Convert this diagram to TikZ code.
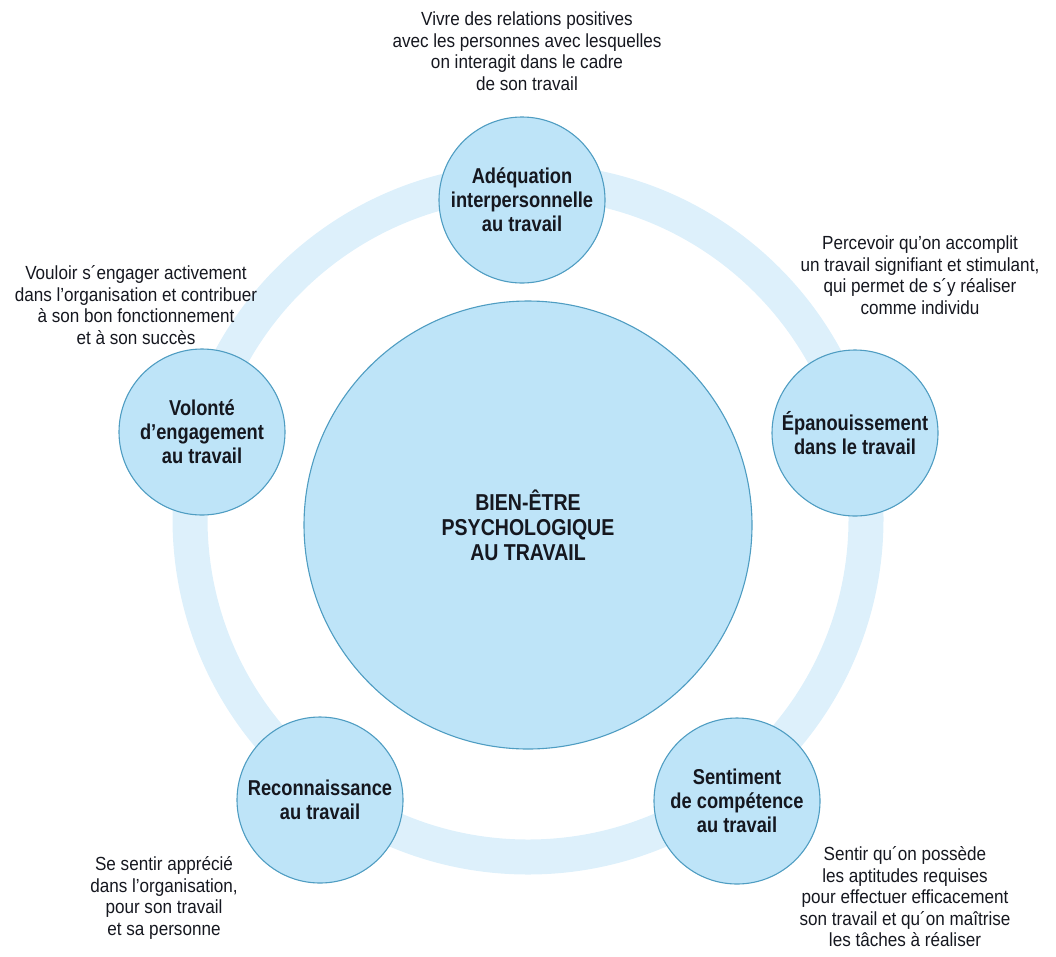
\documentclass[tikz,border=0pt]{standalone}
\usepackage{fontspec}
\setmainfont{Liberation Sans}[FakeStretch=0.9]
\newfontfamily\lblfont{Liberation Sans}[FakeStretch=0.85]
\definecolor{fillc}{HTML}{BEE4F8}
\definecolor{edgec}{HTML}{4F9DC2}
\definecolor{ringc}{HTML}{DDF0FB}
\definecolor{txtc}{HTML}{15171F}
\tikzset{
  smallc/.style={circle, draw=edgec, line width=1.1pt, fill=fillc, minimum size=166pt, inner sep=0pt, align=center, text=txtc, font=\lblfont\fontsize{21.5}{24}\selectfont\bfseries},
  bigc/.style={circle, draw=edgec, line width=1.1pt, fill=fillc, minimum size=448pt, inner sep=0pt, align=center, text=txtc, font=\lblfont\fontsize{23}{25}\selectfont\bfseries},
  desc/.style={align=center, text=txtc, inner sep=0pt, font=\fontsize{19}{21.5}\selectfont}
}
\begin{document}
\begin{tikzpicture}[x=1pt,y=-1pt]
\useasboundingbox (0,0) rectangle (1056,956);
\draw[ringc, line width=35pt] (528,519) circle (338pt);
\node[bigc] (center) at (528,525) {BIEN-ÊTRE\\PSYCHOLOGIQUE\\AU TRAVAIL};
\node[smallc] (adeq) at (522,200) {Adéquation\\interpersonnelle\\au travail};
\node[smallc] (volo) at (202,432) {Volonté\\d’engagement\\au travail};
\node[smallc] (epan) at (855,433) {Épanouissement\\dans le travail};
\node[smallc] (reco) at (320,800) {Reconnaissance\\au travail};
\node[smallc] (sent) at (737,801) {Sentiment\\de compétence\\au travail};
\node[desc] (dadeq) at (527,51) {Vivre des relations positives\\avec les personnes avec lesquelles\\on interagit dans le cadre\\de son travail};
\node[desc] (dvolo) at (136,305) {Vouloir s´engager activement\\dans l’organisation et contribuer\\à son bon fonctionnement\\et à son succès};
\node[desc] (depan) at (920,275) {Percevoir qu’on accomplit\\un travail signifiant et stimulant,\\qui permet de s´y réaliser\\comme individu};
\node[desc] (dreco) at (164,898) {Se sentir apprécié\\dans l’organisation,\\pour son travail\\et sa personne};
\node[desc] (dsent) at (905,897) {Sentir qu´on possède\\les aptitudes requises\\pour effectuer efficacement\\son travail et qu´on maîtrise\\les tâches à réaliser};
\end{tikzpicture}
\end{document}
